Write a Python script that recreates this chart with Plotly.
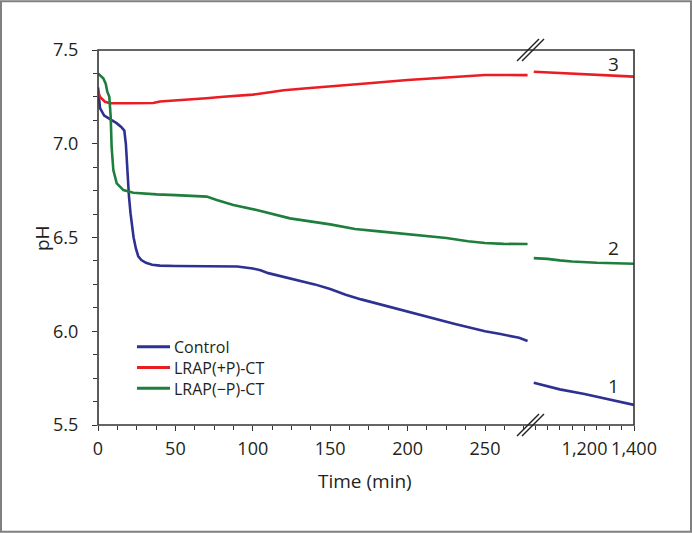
import plotly.graph_objects as go

# ---------------- data ----------------
series_names = ["Control", "LRAP(+P)-CT", "LRAP(\u2212P)-CT"]
series_colors = ["#2e3192", "#ec1c24", "#1e7e3c"]
curve_labels = ["1", "3", "2"]

# early period (min)
control_t = [0, 0.5, 1.3, 4, 8, 12, 15, 17, 18, 19, 20, 21, 22, 23, 24.5, 26, 28, 31, 35, 40,
             50, 60, 70, 80, 90, 100, 105, 110, 120, 130, 140, 150, 160, 170, 180, 190, 200,
             210, 220, 230, 240, 250, 260, 268, 272, 277.5]
control_ph = [7.30, 7.24, 7.19, 7.15, 7.13, 7.11, 7.09, 7.07, 7.00, 6.85, 6.72, 6.63, 6.56, 6.50,
              6.44, 6.40, 6.38, 6.365, 6.355, 6.35, 6.348, 6.347, 6.347, 6.347, 6.345, 6.335,
              6.325, 6.31, 6.29, 6.27, 6.25, 6.225, 6.195, 6.17, 6.148, 6.125, 6.105, 6.085,
              6.063, 6.04, 6.02, 6.0, 5.985, 5.972, 5.965, 5.948]

plusp_t = [0, 1.3, 4.5, 7.8, 20, 35.7, 40, 50, 60, 70, 81, 92, 100, 110, 120, 135, 150, 175,
           200, 225, 250, 262, 277.5]
plusp_ph = [7.28, 7.25, 7.224, 7.216, 7.216, 7.217, 7.225, 7.23, 7.235, 7.243, 7.251, 7.256,
            7.262, 7.273, 7.285, 7.296, 7.305, 7.323, 7.34, 7.355, 7.367, 7.367, 7.366]

minusp_t = [0, 2, 3.4, 5, 6, 7.3, 8.2, 8.8, 9.9, 12.1, 16.4, 22.8, 30, 37.9, 50, 59.4, 70.2,
            76.7, 87.4, 102.5, 124, 150, 166, 180, 200, 225, 239, 250, 262, 277.5]
minusp_ph = [7.375, 7.36, 7.349, 7.32, 7.278, 7.25, 7.144, 6.984, 6.86, 6.789, 6.753, 6.739,
             6.733, 6.73, 6.726, 6.723, 6.718, 6.70, 6.673, 6.647, 6.602, 6.57, 6.545, 6.534,
             6.519, 6.497, 6.48, 6.471, 6.466, 6.465]

# late period (min)
control_t2 = [995, 1050, 1100, 1200, 1300, 1400]
control_ph2 = [5.725, 5.705, 5.69, 5.665, 5.635, 5.607]
plusp_t2 = [995, 1050, 1100, 1200, 1300, 1400]
plusp_ph2 = [7.384, 7.38, 7.377, 7.372, 7.365, 7.358]
minusp_t2 = [995, 1050, 1100, 1150, 1250, 1400]
minusp_ph2 = [6.39, 6.386, 6.378, 6.372, 6.365, 6.36]

x_ticks_left = [0, 50, 100, 150, 200, 250]
x_ticks_right = [1200, 1400]
x_ticktext_right = ["1,200", "1,400"]
y_ticks = [5.5, 6.0, 6.5, 7.0, 7.5]

# ---------------- layout geometry ----------------
W, H = 692, 533
L, R, T, B = 98, 634, 50, 425  # plot area in pixels
pw, ph = R - L, B - T


def px(x):
    return (x - L) / pw


def py(y):
    return (B - y) / ph


left_end = 280.0
split = px(L + left_end * 1.548)
right_start = 1400 - (R - (L + left_end * 1.548)) / 0.2475

FONT = "Open Sans"
TXT = "#231f20"

fig = go.Figure()
early = [(control_t, control_ph), (plusp_t, plusp_ph), (minusp_t, minusp_ph)]
late = [(control_t2, control_ph2), (plusp_t2, plusp_ph2), (minusp_t2, minusp_ph2)]
for i in range(3):
    fig.add_trace(go.Scatter(x=early[i][0], y=early[i][1], mode="lines", name=series_names[i],
                             line=dict(color=series_colors[i], width=2.6), xaxis="x", yaxis="y",
                             showlegend=False))
    fig.add_trace(go.Scatter(x=late[i][0], y=late[i][1], mode="lines", name=series_names[i],
                             line=dict(color=series_colors[i], width=2.6), xaxis="x2", yaxis="y",
                             showlegend=False))

tickfont = dict(family=FONT, size=18, color=TXT)
fig.update_layout(
    width=W, height=H,
    margin=dict(l=L, r=W - R, t=T, b=H - B),
    paper_bgcolor="white", plot_bgcolor="white",
    showlegend=False,
    xaxis=dict(domain=[0, split], range=[0, left_end], tickmode="array", tickvals=x_ticks_left,
               ticks="outside", ticklen=5, tickwidth=1.3, tickcolor="#333",
               minor=dict(dtick=12.5, tick0=0, ticks="outside", ticklen=4, tickwidth=1.3, tickcolor="#333"),
               showgrid=False, zeroline=False, showline=False, tickfont=tickfont, anchor="y",
               ticklabelstandoff=2),
    xaxis2=dict(domain=[split, 1], range=[right_start, 1400], tickmode="array",
                tickvals=x_ticks_right, ticktext=x_ticktext_right,
                ticks="outside", ticklen=5, tickwidth=1.3, tickcolor="#333",
                minor=dict(dtick=50, tick0=0, ticks="outside", ticklen=4, tickwidth=1.3, tickcolor="#333"),
                showgrid=False, zeroline=False, showline=False, tickfont=tickfont, anchor="y",
                ticklabelstandoff=2),
    yaxis=dict(domain=[0, 1], range=[5.5, 7.5], tickmode="array", tickvals=y_ticks,
               tickformat=".1f", ticks="outside", ticklen=5, tickwidth=1.3, tickcolor="#333",
               minor=dict(dtick=0.125, tick0=5.5, ticks="outside", ticklen=4, tickwidth=1.3, tickcolor="#333"),
               showgrid=False, zeroline=False, showline=False, tickfont=tickfont, anchor="x",
               ticklabelstandoff=10),
)

shapes = []
# plot box
shapes.append(dict(type="rect", xref="paper", yref="paper", x0=0, x1=1, y0=0, y1=1,
                   line=dict(color="#333", width=1.6), layer="above"))
# outer frame
shapes.append(dict(type="rect", xref="paper", yref="paper", x0=px(1), x1=px(691), y0=py(1.2), y1=py(531.8),
                   line=dict(color="#808080", width=2)))
# axis break marks
for yc in (T, B):
    for dx in (0, 5):
        shapes.append(dict(type="line", xref="paper", yref="paper",
                           x0=px(517 + dx), y0=py(yc + 11), x1=px(539 + dx), y1=py(yc - 11),
                           line=dict(color="#222", width=1.5)))

annotations = []
# manual legend (one text block, three lines)
leg_font = 16
leg_mid = 367.5
leg_step = 1.3 * leg_font
for i in range(3):
    yy = leg_mid + (i - 1) * leg_step
    shapes.append(dict(type="line", xref="paper", yref="paper", x0=px(137), x1=px(170),
                       y0=py(yy), y1=py(yy),
                       line=dict(color=series_colors[i], width=3)))
annotations.append(dict(xref="paper", yref="paper", x=px(172), y=py(leg_mid),
                        text="<br>".join(series_names), showarrow=False, xanchor="left",
                        yanchor="middle", align="left",
                        font=dict(family=FONT, size=leg_font, color=TXT)))

# curve labels
lab_pos = [(613, 386), (613, 64.5), (613, 248)]
for i in range(3):
    annotations.append(dict(xref="paper", yref="paper", x=px(lab_pos[i][0]), y=py(lab_pos[i][1]),
                            text=curve_labels[i], showarrow=False, xanchor="center", yanchor="middle",
                            font=dict(family=FONT, size=19, color=TXT)))

# axis titles
annotations.append(dict(xref="paper", yref="paper", x=px(365), y=py(481), text="Time (min)",
                        showarrow=False, xanchor="center", yanchor="middle",
                        font=dict(family=FONT, size=19, color=TXT)))
annotations.append(dict(xref="paper", yref="paper", x=px(42), y=py(238), text="pH",
                        showarrow=False, xanchor="center", yanchor="middle", textangle=-90,
                        font=dict(family=FONT, size=19, color=TXT)))

fig.update_layout(shapes=shapes, annotations=annotations)
fig.write_html("out.html", config={"displayModeBar": False},
               post_script="document.body.style.margin='0';")
